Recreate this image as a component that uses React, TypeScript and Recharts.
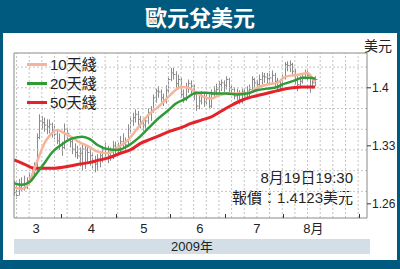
import { ComposedChart, Bar, Line, XAxis, YAxis, ReferenceLine } from 'recharts';

// daily bars, trading-day index 0 = 5 Mar 2009 ... 119 = 19 Aug 2009
const HIGH = [
  1.288, 1.285, 1.29, 1.292, 1.294, 1.292, 1.298, 1.305, 1.31, 1.345,
  1.368, 1.366, 1.364, 1.362, 1.362, 1.358, 1.354, 1.35, 1.345, 1.335,
  1.357, 1.352, 1.343, 1.338, 1.333, 1.33, 1.328, 1.333, 1.332, 1.329,
  1.326, 1.322, 1.318, 1.32, 1.324, 1.33, 1.334, 1.33, 1.328, 1.336,
  1.335, 1.334, 1.342, 1.345, 1.34, 1.356, 1.366, 1.37, 1.374, 1.372,
  1.366, 1.363, 1.365, 1.375, 1.378, 1.392, 1.399, 1.402, 1.398, 1.393,
  1.403, 1.414, 1.424, 1.424, 1.42, 1.416, 1.412, 1.398, 1.406, 1.41,
  1.409, 1.404, 1.395, 1.39, 1.396, 1.394, 1.395, 1.392, 1.398, 1.402,
  1.405, 1.408, 1.41, 1.409, 1.414, 1.412, 1.404, 1.401, 1.399, 1.397,
  1.399, 1.4, 1.402, 1.404, 1.414, 1.412, 1.41, 1.416, 1.419, 1.418,
  1.418, 1.42, 1.421, 1.418, 1.412, 1.41, 1.416, 1.431, 1.432, 1.433,
  1.43, 1.423, 1.414, 1.414, 1.417, 1.422, 1.421, 1.416, 1.412, 1.414,
];
const LOW = [
  1.27, 1.266, 1.27, 1.275, 1.276, 1.278, 1.283, 1.288, 1.292, 1.3,
  1.338, 1.35, 1.347, 1.344, 1.345, 1.34, 1.338, 1.332, 1.325, 1.318,
  1.326, 1.338, 1.328, 1.32, 1.316, 1.314, 1.305, 1.3, 1.302, 1.31,
  1.306, 1.302, 1.298, 1.3, 1.304, 1.31, 1.316, 1.309, 1.312, 1.314,
  1.318, 1.318, 1.322, 1.327, 1.324, 1.332, 1.345, 1.354, 1.358, 1.355,
  1.351, 1.348, 1.35, 1.356, 1.36, 1.37, 1.382, 1.388, 1.383, 1.378,
  1.381, 1.394, 1.408, 1.41, 1.4, 1.398, 1.388, 1.382, 1.384, 1.394,
  1.392, 1.385, 1.372, 1.374, 1.38, 1.377, 1.379, 1.374, 1.376, 1.387,
  1.39, 1.393, 1.396, 1.395, 1.398, 1.395, 1.393, 1.386, 1.385, 1.38,
  1.381, 1.385, 1.386, 1.389, 1.395, 1.4, 1.397, 1.401, 1.404, 1.406,
  1.404, 1.405, 1.406, 1.402, 1.396, 1.397, 1.4, 1.41, 1.42, 1.419,
  1.414, 1.404, 1.396, 1.402, 1.405, 1.41, 1.408, 1.394, 1.399, 1.402,
];
const CLOSE = [
  1.274, 1.27, 1.28, 1.282, 1.279, 1.288, 1.292, 1.298, 1.3, 1.34,
  1.36, 1.358, 1.355, 1.353, 1.356, 1.349, 1.344, 1.336, 1.33, 1.328,
  1.35, 1.345, 1.335, 1.326, 1.322, 1.318, 1.321, 1.326, 1.325, 1.322,
  1.318, 1.312, 1.308, 1.314, 1.318, 1.325, 1.327, 1.318, 1.322, 1.33,
  1.326, 1.327, 1.335, 1.333, 1.331, 1.35, 1.36, 1.364, 1.368, 1.362,
  1.358, 1.355, 1.36, 1.37, 1.373, 1.388, 1.396, 1.395, 1.388, 1.384,
  1.397, 1.41, 1.418, 1.416, 1.405, 1.41, 1.392, 1.388, 1.401, 1.405,
  1.402, 1.392, 1.378, 1.384, 1.39, 1.383, 1.388, 1.378, 1.392, 1.396,
  1.398, 1.404, 1.406, 1.403, 1.41, 1.4, 1.398, 1.39, 1.394, 1.383,
  1.395, 1.39, 1.396, 1.398, 1.41, 1.406, 1.404, 1.41, 1.414, 1.413,
  1.411, 1.412, 1.415, 1.408, 1.4, 1.404, 1.412, 1.428, 1.427, 1.428,
  1.42, 1.41, 1.404, 1.408, 1.413, 1.418, 1.415, 1.402, 1.406, 1.41,
];

// moving averages (day index, value)
const MA10_DAY = [0, 3, 6, 8, 10, 12, 14, 17, 20, 23, 26, 29, 33, 37, 41, 45, 49, 53, 57, 61, 63, 66, 69, 72, 75, 78, 81, 85, 89, 93, 96, 100, 104, 107, 110, 113, 116, 118, 119];
const MA10_VAL = [1.28, 1.278, 1.286, 1.302, 1.318, 1.333, 1.342, 1.349, 1.345, 1.34, 1.334, 1.33, 1.323, 1.321, 1.328, 1.337, 1.352, 1.367, 1.377, 1.389, 1.395, 1.401, 1.4, 1.394, 1.389, 1.387, 1.391, 1.393, 1.393, 1.394, 1.4, 1.404, 1.406, 1.413, 1.415, 1.416, 1.418, 1.411, 1.407];
const MA20_DAY = [0, 3, 6, 9, 12, 15, 19, 23, 27, 30, 33, 37, 41, 45, 49, 53, 57, 61, 64, 68, 72, 76, 80, 84, 88, 92, 96, 100, 104, 106, 108, 111, 114, 117, 119];
const MA20_VAL = [1.285, 1.283, 1.286, 1.297, 1.309, 1.322, 1.332, 1.339, 1.341, 1.338, 1.331, 1.326, 1.325, 1.33, 1.339, 1.351, 1.363, 1.373, 1.381, 1.387, 1.394, 1.394, 1.393, 1.393, 1.392, 1.393, 1.397, 1.399, 1.401, 1.404, 1.406, 1.409, 1.412, 1.412, 1.411];
const MA50_DAY = [0, 4, 8, 12, 16, 21, 26, 30, 34, 38, 42, 46, 50, 54, 58, 62, 66, 70, 74, 78, 82, 86, 90, 94, 98, 102, 106, 110, 114, 119];
const MA50_VAL = [1.313, 1.308, 1.303, 1.303, 1.303, 1.305, 1.308, 1.31, 1.313, 1.316, 1.321, 1.325, 1.333, 1.338, 1.343, 1.348, 1.352, 1.357, 1.361, 1.365, 1.372, 1.379, 1.385, 1.389, 1.392, 1.395, 1.398, 1.4, 1.401, 1.401];

const MONTH_BOUNDS = [18.5, 40.5, 61.5, 83.5, 106.5, 136.5];
const MONTH_MID = [8.7, 30.6, 51.3, 73.5, 96, 118.3];
const MONTH_LABELS = ['3', '4', '5', '6', '7', '8月'];
const Y_TICKS = [1.26, 1.33, 1.4];
const GRID_Y = [1.275, 1.3, 1.325, 1.35, 1.375, 1.4, 1.425];
const GRID_X = [1, 6, 11, 16, 21, 26, 31, 36, 41, 46, 51, 56, 61, 66, 71, 76, 81, 86, 91, 96, 101, 106, 111, 116, 121, 126, 131, 136];
const X_DOMAIN = [0, 139.5];
const Y_DOMAIN = [1.2429, 1.442];

const LEGEND = [
  { name: '10天綫', color: '#f6b59b' },
  { name: '20天綫', color: '#2f9b36' },
  { name: '50天綫', color: '#e3222a' },
];

const bars = HIGH.map((h, i) => ({ i, high: h, low: LOW[i], close: CLOSE[i] }));
const ma10 = MA10_DAY.map((d, k) => ({ i: d, v: MA10_VAL[k] }));
const ma20 = MA20_DAY.map((d, k) => ({ i: d, v: MA20_VAL[k] }));
const ma50 = MA50_DAY.map((d, k) => ({ i: d, v: MA50_VAL[k] }));
const xTicks = [...MONTH_BOUNDS, ...MONTH_MID].sort((a, b) => a - b);

const FONT = "'Liberation Sans', 'Noto Sans CJK TC', sans-serif";

function OhlcShape(props: any) {
  const { x, y, width, height, payload } = props;
  if (x == null || y == null || !height) return null;
  const top = Math.min(y, y + height);
  const h = Math.abs(height);
  const cx = Math.round(x + width / 2) + 0.5;
  const yc = top + ((payload.high - payload.close) / (payload.high - payload.low)) * h;
  return (
    <g stroke="#8c8c8c" strokeWidth={1}>
      <line x1={cx} x2={cx} y1={top} y2={top + h} />
      <line x1={cx} x2={cx + 2} y1={yc} y2={yc} />
    </g>
  );
}

// month boundaries get a short inward tick, month middles get the label
function MonthTick(props: any) {
  const { x, y, payload } = props;
  const k = MONTH_MID.indexOf(payload.value);
  if (k < 0) {
    const cx = Math.round(x) + 0.5;
    return <line x1={cx} x2={cx} y1={y} y2={y - 4} stroke="#333" />;
  }
  return (
    <text x={x} y={y + 15} textAnchor="middle" fill="#222" fontSize={13} fontFamily={FONT}>
      {MONTH_LABELS[k]}
    </text>
  );
}

function LegendBox() {
  return (
    <div style={{ position: 'absolute', left: 27, top: 55, fontFamily: FONT }}>
      {LEGEND.map((l) => (
        <div key={l.name} style={{ display: 'flex', alignItems: 'center', height: 19 }}>
          <span style={{ width: 20, height: 3, background: l.color, marginRight: 3 }} />
          <span style={{ fontSize: 15, color: '#222', lineHeight: '19px' }}>{l.name}</span>
        </div>
      ))}
    </div>
  );
}

export default function App() {
  return (
    <div style={{ position: 'absolute', left: 0, top: 0, width: 400, height: 269, background: '#005a80', fontFamily: FONT, overflow: 'hidden' }}>
      <div style={{ position: 'absolute', left: 0, top: 0, width: 400, height: 33, lineHeight: '32px', textAlign: 'center', color: '#fff', fontSize: 22, fontWeight: 700, fontFamily: "'Noto Sans CJK TC', sans-serif" }}>
        歐元兌美元
      </div>
      <div style={{ position: 'absolute', left: 3, top: 33, width: 394, height: 227, background: '#fff' }} />
      <div style={{ position: 'absolute', left: 14, top: 239, width: 356, height: 15, background: '#d3dee7', fontSize: 13, lineHeight: '15px', textAlign: 'center', color: '#222' }}>
        2009年
      </div>
      <div style={{ position: 'absolute', left: 364, top: 35, fontSize: 14, color: '#222' }}>美元</div>
      <div style={{ position: 'absolute', right: 47, top: 168, fontSize: 15, lineHeight: '20px', color: '#222', textAlign: 'right' }}>
        <div>8月19日19:30</div>
        <div>報價：1.4123美元</div>
      </div>
      <div style={{ position: 'absolute', left: 0, top: 0 }}>
        <ComposedChart width={400} height={269} data={bars} margin={{ top: 52, right: 0, bottom: 0, left: 13 }}>
          {GRID_Y.map((v) => (
            <ReferenceLine key={'gy' + v} y={v} stroke="#c4c4c4" strokeDasharray="2 2" />
          ))}
          {GRID_X.map((v) => (
            <ReferenceLine key={'gx' + v} x={v} stroke="#c4c4c4" strokeDasharray="2 2" />
          ))}
          <XAxis
            dataKey="i"
            type="number"
            domain={X_DOMAIN}
            allowDataOverflow
            ticks={xTicks}
            interval={0}
            tick={<MonthTick />}
            tickSize={0}
            tickMargin={0}
            height={51}
            axisLine={{ stroke: '#8a8a8a' }}
            tickLine={false}
          />
          <XAxis xAxisId="top" orientation="top" type="number" domain={X_DOMAIN} allowDataOverflow tick={false} tickLine={false} height={1} axisLine={{ stroke: '#8a8a8a' }} />
          <YAxis
            orientation="right"
            type="number"
            domain={Y_DOMAIN}
            allowDataOverflow
            ticks={Y_TICKS}
            interval={0}
            tickFormatter={(v: number) => String(v)}
            width={33}
            tickSize={4}
            tickMargin={1}
            axisLine={{ stroke: '#8a8a8a' }}
            tickLine={{ stroke: '#333' }}
            tick={{ fill: '#222', fontSize: 12, fontFamily: FONT }}
          />
          <YAxis yAxisId="left" orientation="left" type="number" domain={Y_DOMAIN} allowDataOverflow tick={false} tickLine={false} width={1} axisLine={{ stroke: '#8a8a8a' }} />
          <Bar dataKey={(d: any) => [d.low, d.high]} barSize={3} shape={OhlcShape} isAnimationActive={false} />
          <Line data={ma50} dataKey="v" type="monotone" stroke="#e3222a" strokeWidth={3} dot={false} isAnimationActive={false} />
          <Line data={ma10} dataKey="v" type="monotone" stroke="#f6b59b" strokeWidth={2.5} dot={false} isAnimationActive={false} />
          <Line data={ma20} dataKey="v" type="monotone" stroke="#2f9b36" strokeWidth={2.5} dot={false} isAnimationActive={false} />
        </ComposedChart>
      </div>
      <LegendBox />
    </div>
  );
}
